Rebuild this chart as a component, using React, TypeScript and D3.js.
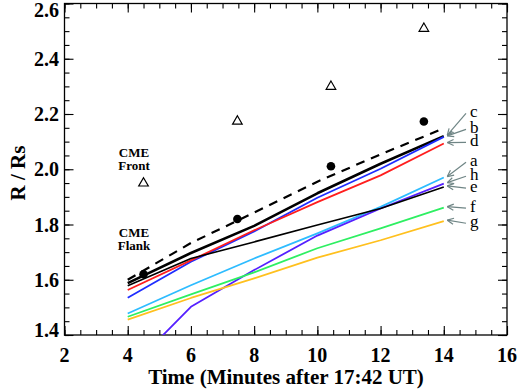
import React, { useEffect, useRef } from 'react';
import * as d3 from 'd3';

// model times (minutes after 17:42 UT)
const times = [4, 6, 8, 10, 12, 14];

// model heights (R / Rs) for each curve, labelled as in the figure
const rC = [1.588, 1.697, 1.795, 1.913, 2.02, 2.12];
const rB = [1.535, 1.665, 1.775, 1.897, 2.002, 2.117];
const rD = [1.563, 1.67, 1.779, 1.881, 1.978, 2.093];
const rA = [1.478, 1.58, 1.677, 1.768, 1.864, 1.97];
const rH = [1.27, 1.502, 1.635, 1.76, 1.858, 1.948];
const rE = [1.578, 1.677, 1.737, 1.798, 1.858, 1.936];
const rF = [1.466, 1.547, 1.627, 1.714, 1.786, 1.861];
const rG = [1.456, 1.534, 1.605, 1.68, 1.743, 1.812];

// dashed curve through the flank points
const rFit = [1.6, 1.733, 1.843, 1.955, 2.054, 2.148];

// observations
const obsTimes = [4.5, 7.47, 10.43, 13.37];
const frontR = [1.953, 2.177, 2.303, 2.513];
const flankR = [1.62, 1.82, 2.011, 2.173];

const curveNames = ['c', 'b', 'd', 'a', 'h', 'e', 'f', 'g'];
const curveValues = [rC, rB, rD, rA, rH, rE, rF, rG];
const curveColors = ['#000000', '#1f2dff', '#ff1e1e', '#2ebcff', '#5520ff', '#000000', '#2eef62', '#ffc01e'];
const curveWidths = [2.6, 1.8, 1.8, 1.8, 1.8, 1.6, 1.8, 1.8];
// where the letter labels sit (R / Rs) on the right
const labelR = [2.188, 2.13, 2.083, 2.011, 1.96, 1.917, 1.845, 1.79];

const xTicks = [2, 4, 6, 8, 10, 12, 14, 16];
const yTicks = [1.4, 1.6, 1.8, 2.0, 2.2, 2.4, 2.6];

const W = 518;
const H = 390;
const FONT = '"Liberation Serif", "Times New Roman", serif';

function App() {
  const ref = useRef<SVGSVGElement>(null);

  useEffect(() => {
    const svg = d3.select(ref.current);
    svg.selectAll('*').remove();

    const left = 64.5, right = 507, top = 3.5, bottom = 335;

    const x = d3.scaleLinear().domain([2, 16]).range([left, right]);
    const y = d3.scaleLinear().domain([1.4, 2.6]).range([bottom, top]);

    const defs = svg.append('defs');
    defs.append('clipPath').attr('id', 'plotclip')
      .append('rect')
      .attr('x', left).attr('y', top)
      .attr('width', right - left).attr('height', bottom - top);

    // ticks on all four sides, pointing inward
    const minorX = d3.range(2, 16.01, 0.5);
    const minorY = d3.range(1.4, 2.601, 0.05);
    const addAxis = (axis: any, tr: string) => {
      const g = svg.append('g').attr('transform', tr).call(axis);
      g.select('.domain').remove();
      g.selectAll('text').remove();
      g.selectAll('line').attr('stroke', '#000').attr('stroke-width', 1.1);
    };
    addAxis(d3.axisBottom(x).tickValues(minorX).tickSize(-5), `translate(0,${bottom})`);
    addAxis(d3.axisBottom(x).tickValues(xTicks).tickSize(-9), `translate(0,${bottom})`);
    addAxis(d3.axisTop(x).tickValues(minorX).tickSize(-5), `translate(0,${top})`);
    addAxis(d3.axisTop(x).tickValues(xTicks).tickSize(-9), `translate(0,${top})`);
    addAxis(d3.axisLeft(y).tickValues(minorY).tickSize(-5), `translate(${left},0)`);
    addAxis(d3.axisLeft(y).tickValues(yTicks).tickSize(-9), `translate(${left},0)`);
    addAxis(d3.axisRight(y).tickValues(minorY).tickSize(-5), `translate(${right},0)`);
    addAxis(d3.axisRight(y).tickValues(yTicks).tickSize(-9), `translate(${right},0)`);

    svg.append('rect')
      .attr('x', left).attr('y', top)
      .attr('width', right - left).attr('height', bottom - top)
      .attr('fill', 'none').attr('stroke', '#000').attr('stroke-width', 1.3);

    // tick labels
    svg.append('g').selectAll('text').data(xTicks).enter().append('text')
      .attr('x', (d) => x(d)).attr('y', 362)
      .attr('text-anchor', 'middle')
      .style('font-family', FONT).style('font-weight', 'bold').style('font-size', '20px')
      .text((d) => String(d));

    svg.append('g').selectAll('text').data(yTicks).enter().append('text')
      .attr('x', 59)
      .attr('y', (d) => Math.min(Math.max(y(d), 10), 330))
      .attr('dy', '0.35em')
      .attr('text-anchor', 'end')
      .style('font-family', FONT).style('font-weight', 'bold').style('font-size', '20px')
      .text((d) => d.toFixed(1));

    // axis titles
    svg.append('text')
      .attr('x', 286).attr('y', 384)
      .attr('text-anchor', 'middle')
      .style('font-family', FONT).style('font-weight', 'bold').style('font-size', '21px')
      .text('Time (Minutes after 17:42 UT)');

    svg.append('text')
      .attr('transform', 'translate(25,173) rotate(-90)')
      .attr('text-anchor', 'middle')
      .style('font-family', FONT).style('font-weight', 'bold').style('font-size', '21px')
      .text('R / Rs');

    const plot = svg.append('g').attr('clip-path', 'url(#plotclip)');

    const line = d3.line<number>()
      .x((d, i) => x(times[i]))
      .y((d) => y(d));

    // dashed curve
    plot.append('path')
      .attr('d', line(rFit))
      .attr('fill', 'none')
      .attr('stroke', '#000')
      .attr('stroke-width', 2.2)
      .attr('stroke-dasharray', '9,7');

    // model curves
    curveValues.forEach((vals, i) => {
      plot.append('path')
        .attr('d', line(vals))
        .attr('fill', 'none')
        .attr('stroke', curveColors[i])
        .attr('stroke-width', curveWidths[i])
        .attr('stroke-linejoin', 'round');
    });

    // flank observations (filled circles)
    plot.selectAll('circle.flank').data(flankR).enter().append('circle')
      .attr('class', 'flank')
      .attr('cx', (d, i) => x(obsTimes[i]))
      .attr('cy', (d) => y(d))
      .attr('r', 4.3)
      .attr('fill', '#000');

    // front observations (open triangles)
    const tri = d3.symbol().type(d3.symbolTriangle).size(40);
    plot.selectAll('path.front').data(frontR).enter().append('path')
      .attr('class', 'front')
      .attr('d', tri())
      .attr('transform', (d, i) => `translate(${x(obsTimes[i])},${y(d) + 1})`)
      .attr('fill', 'none')
      .attr('stroke', '#000')
      .attr('stroke-width', 1.2);

    // CME text
    const note = (lines: string[], baseY: number) => {
      lines.forEach((t, k) => {
        svg.append('text')
          .attr('x', 134).attr('y', baseY + k * 13)
          .attr('text-anchor', 'middle')
          .style('font-family', FONT).style('font-weight', 'bold').style('font-size', '13px')
          .text(t);
      });
    };
    note(['CME', 'Front'], 157);
    note(['CME', 'Flank'], 237);

    // letter labels with gray arrows to the line ends
    const arrowColor = '#6f8585';
    const tailX = 466;
    const tipX = x(14) + 3.5;
    curveNames.forEach((name, i) => {
      const ly = y(labelR[i]);
      svg.append('text')
        .attr('x', 470).attr('y', ly)
        .style('font-family', FONT).style('font-size', '17px')
        .text(name);

      const ty = y(curveValues[i][curveValues[i].length - 1]) - 1;
      const sy = ly - 4;
      svg.append('line')
        .attr('x1', tailX).attr('y1', sy)
        .attr('x2', tipX).attr('y2', ty)
        .attr('stroke', arrowColor).attr('stroke-width', 1.2);

      const ang = Math.atan2(sy - ty, tailX - tipX);
      const hl = 7;
      [0.45, -0.45].forEach((da) => {
        svg.append('line')
          .attr('x1', tipX).attr('y1', ty)
          .attr('x2', tipX + hl * Math.cos(ang + da))
          .attr('y2', ty + hl * Math.sin(ang + da))
          .attr('stroke', arrowColor).attr('stroke-width', 1.2);
      });
    });
  }, []);

  return (
    <svg
      ref={ref}
      width={W}
      height={H}
      style={{ position: 'absolute', left: 0, top: 0, background: '#fff' }}
    />
  );
}

export default App;
